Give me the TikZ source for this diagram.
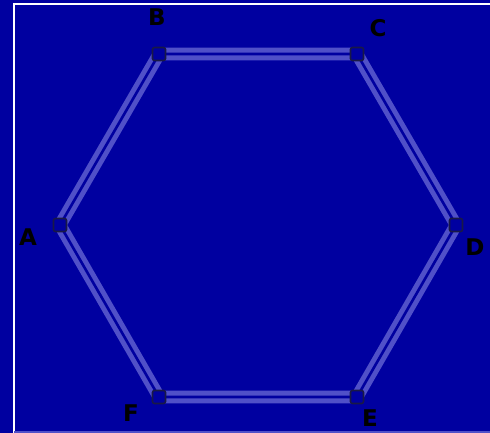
\documentclass[tikz,border=0pt]{standalone}
\usepackage{fontspec}
\setsansfont{DejaVu Sans}
\definecolor{bgblue}{RGB}{0,0,160}
\definecolor{edgelav}{RGB}{80,80,200}
\definecolor{vdark}{RGB}{25,25,70}
\begin{document}
\begin{tikzpicture}[x=1pt,y=-1pt,
  vtx/.style={draw=vdark,line width=1.6pt,fill=bgblue,minimum size=13pt,inner sep=0pt,rounded corners=2pt},
  lbl/.style={font=\sffamily\bfseries\fontsize{23}{23}\selectfont,text=black},
  hedge/.style={draw=edgelav,line width=5pt,double=bgblue,double distance=2.6pt}]
\fill[bgblue] (0,0) rectangle (490,433);
\useasboundingbox (0,0) rectangle (490,433);
\draw[white,line width=2pt] (14,433) -- (14,4) -- (490,4);
\draw[edgelav,line width=2pt] (14,432) -- (490,432);
\coordinate (pA) at (60,225);
\coordinate (pB) at (159,54);
\coordinate (pC) at (357,54);
\coordinate (pD) at (456,225);
\coordinate (pE) at (357,397);
\coordinate (pF) at (159,397);
\draw[hedge,line join=round] (pA) -- (pB) -- (pC) -- (pD) -- (pE) -- (pF) -- cycle;
\node[vtx] (A) at (pA) {};
\node[vtx] (B) at (pB) {};
\node[vtx] (C) at (pC) {};
\node[vtx] (D) at (pD) {};
\node[vtx] (E) at (pE) {};
\node[vtx] (F) at (pF) {};
\node[lbl] (lA) at (28,237) {A};
\node[lbl] (lB) at (157,17) {B};
\node[lbl] (lC) at (378,28) {C};
\node[lbl] (lD) at (475,247) {D};
\node[lbl] (lE) at (370,418) {E};
\node[lbl] (lF) at (131,413) {F};
\end{tikzpicture}
\end{document}
